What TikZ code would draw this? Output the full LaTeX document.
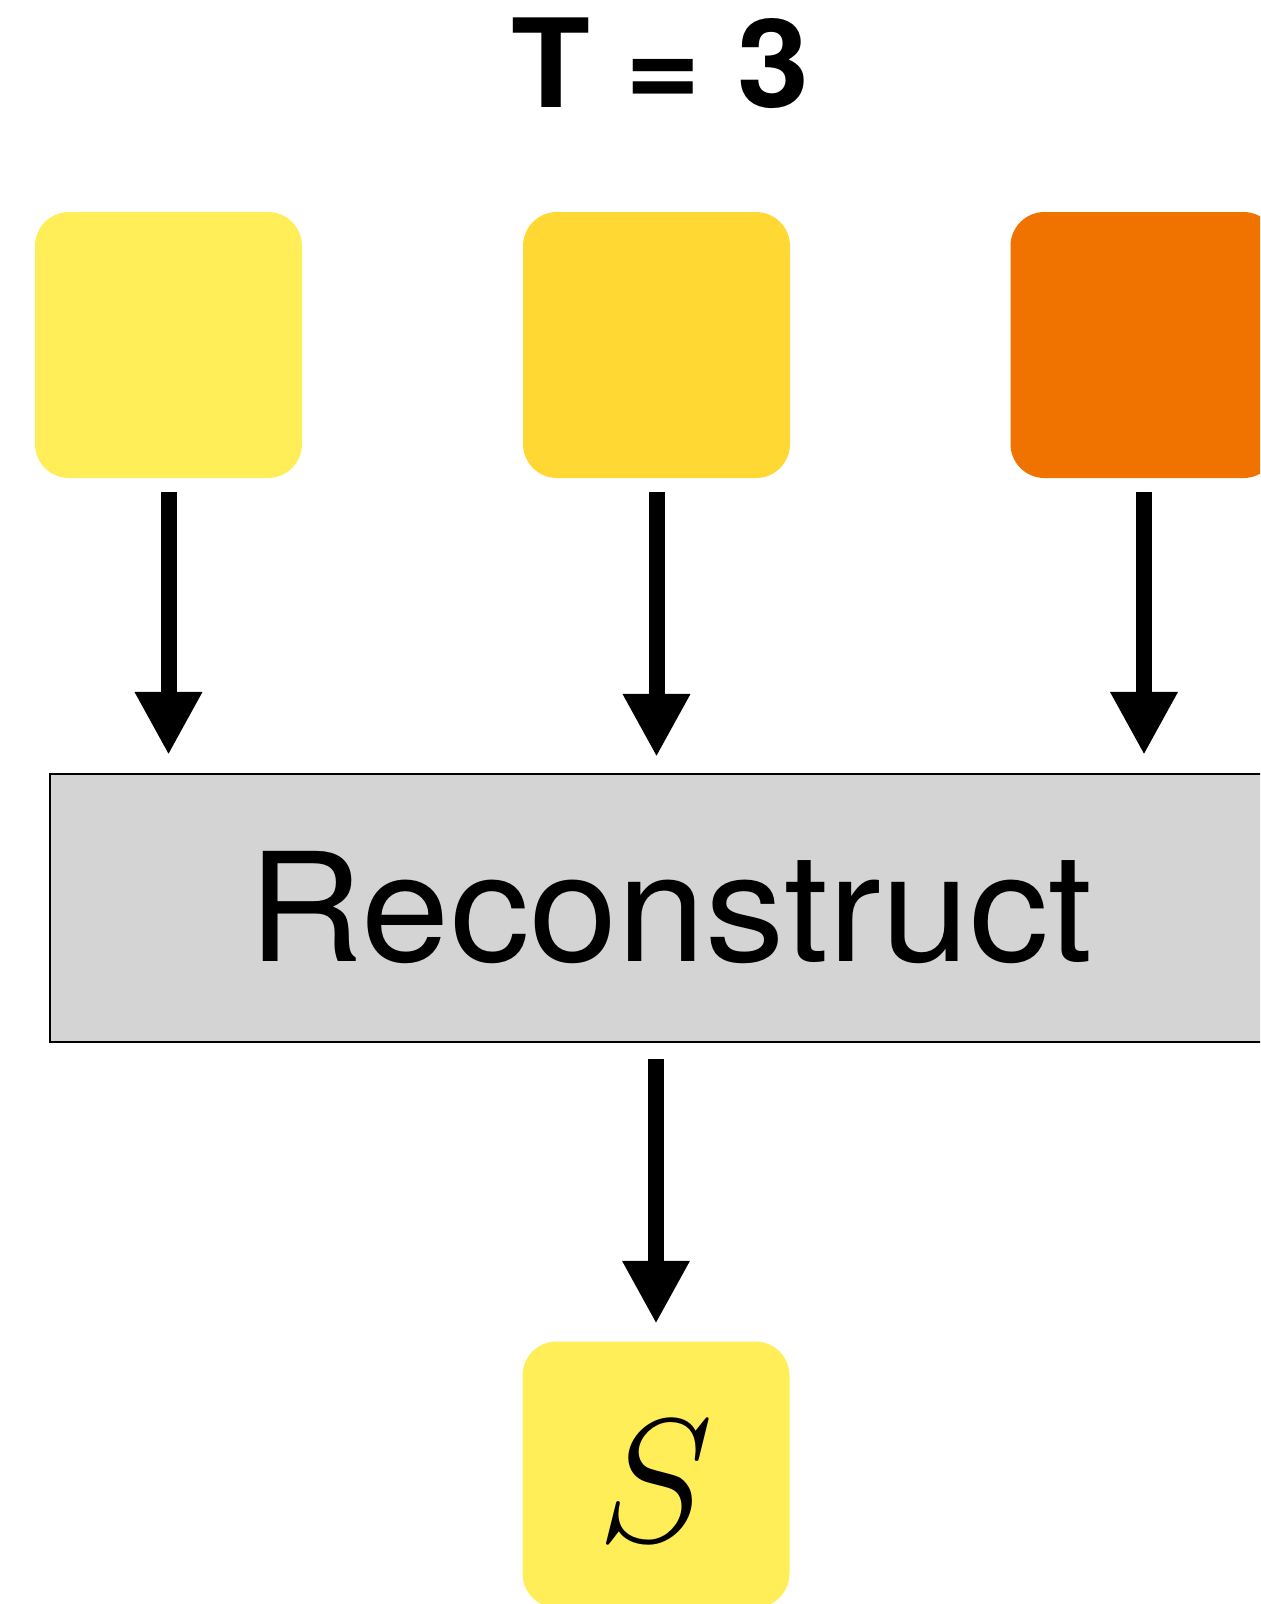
\documentclass[tikz,border=0pt]{standalone}
\usepackage{fix-cm}
\usepackage{fontspec}
\setmainfont{TeX Gyre Heros}
\newfontfamily\largafont[FakeStretch=1.05]{TeX Gyre Heros}
\usetikzlibrary{arrows.meta,positioning}
\definecolor{amarelo}{HTML}{FFEE58}
\definecolor{ouro}{HTML}{FFD834}
\definecolor{laranja}{HTML}{F07300}
\definecolor{cinza}{HTML}{D4D4D4}
\begin{document}
\begin{tikzpicture}[bloco/.style={rounded corners=0.34cm, minimum width=2.67cm, minimum height=2.66cm, inner sep=0pt},
    seta/.style={line width=0.16cm, -{Triangle[width=0.63cm,length=0.63cm]}}]
    \clip (0,0) rectangle (12.6,-16.04);
    % Título
    \node[font=\largafont\fontsize{35}{40}\selectfont\bfseries] (titulo) at (6.6,-0.63) {T = 3};

    % Nós
    \node[bloco, fill=amarelo] (1) at (1.685,-3.45) {};
    \node[bloco, fill=ouro] (2) at (6.565,-3.45) {};
    \node[bloco, fill=laranja] (3) at (11.44,-3.45) {};
    \node[draw, fill=cinza, line width=0.6pt, minimum width=12.42cm, minimum height=2.68cm, font=\largafont\fontsize{43}{50}\selectfont] (rec) at (6.71,-9.08) {Reconstruct};
    \node[bloco, fill=amarelo, font=\fontsize{50}{55}\selectfont] (s) at (6.56,-14.745) {};
    \node[font=\fontsize{50}{55}\selectfont] (stxt) at ([yshift=-0.07cm]s.center) {$S$};

    % Arestas
    \draw[seta, shorten <=0.13cm, shorten >=0.18cm] (1) -- (1 |- rec.north);
    \draw[seta, shorten <=0.13cm, shorten >=0.16cm] (2) -- (2 |- rec.north);
    \draw[seta, shorten <=0.13cm, shorten >=0.18cm] (3) -- (3 |- rec.north);
    \draw[seta, shorten <=0.155cm, shorten >=0.17cm] (rec.south -| s.north) -- (s);
\end{tikzpicture}
\end{document}
